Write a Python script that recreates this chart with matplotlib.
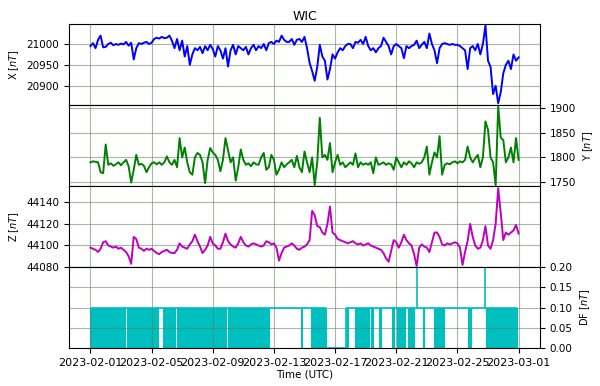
import matplotlib

matplotlib.use("Agg")
import matplotlib.pyplot as plt
import pandas as pd

# 4-hourly readings, 2023-02-01 00:00 .. 2023-03-01 00:00
x_nt = [
    20995, 21002, 20990, 21010, 21020, 20992,
    20993, 21000, 21003, 20997, 21000, 20998,
    21001, 20999, 21005, 20996, 21003, 20963,
    20990, 21002, 21000, 21003, 21005, 21000,
    21003, 21012, 21015, 21013, 21017, 21014,
    21015, 21020, 21008, 20990, 21012, 20985,
    21008, 20970, 20995, 20950, 20975, 20990,
    20985, 20993, 20978, 20995, 20985, 20998,
    20988, 20970, 20995, 20985, 20965, 20990,
    20946, 20985, 20998, 20975, 20995, 20990,
    20985, 20993, 20975, 20990, 20998, 20985,
    20995, 20990, 21000, 20985, 21002, 21005,
    21000, 21008, 21005, 21020, 21010, 21005,
    21005, 21012, 20998, 21010, 21012, 21005,
    21017, 20990, 20955, 20935, 20912, 20945,
    20998, 20970, 20960, 20915, 20940, 20975,
    20965, 20980, 20990, 20985, 20995, 21000,
    21000, 20990, 21005, 21003, 21010, 21000,
    21017, 20995, 20985, 20990, 20980, 20990,
    20995, 21015, 21005, 20995, 20975, 20995,
    21000, 20995, 20990, 20966, 20995, 20990,
    20995, 20998, 21008, 20990, 20998, 21005,
    20990, 21025, 21000, 20985, 20954, 20990,
    21000, 21002, 21000, 20998, 21000, 20998,
    20998, 20995, 20990, 20985, 20940, 20990,
    20995, 20985, 21000, 20975, 21000, 21045,
    20960, 20945, 20880, 20900, 20858, 20885,
    20930, 20950, 20960, 20940, 20975, 20960,
    20968,
]
y_nt = [
    1790, 1792, 1791, 1790, 1770, 1768,
    1826, 1785, 1788, 1783, 1786, 1790,
    1784, 1790, 1795, 1782, 1749, 1775,
    1805, 1785, 1787, 1783, 1770, 1780,
    1788, 1790, 1786, 1790, 1785, 1790,
    1802, 1790, 1785, 1795, 1780, 1839,
    1800, 1820, 1790, 1770, 1765, 1800,
    1809, 1805, 1790, 1748, 1795, 1819,
    1810, 1805, 1795, 1772, 1795, 1839,
    1815, 1790, 1800, 1753, 1780, 1816,
    1795, 1785, 1788, 1782, 1790, 1786,
    1785, 1800, 1809, 1775, 1780, 1805,
    1795, 1765, 1775, 1790, 1780, 1786,
    1790, 1795, 1780, 1803, 1780, 1770,
    1812, 1790, 1770, 1800, 1744, 1790,
    1880, 1800, 1805, 1795, 1829, 1770,
    1790, 1805, 1785, 1790, 1780, 1785,
    1790, 1785, 1808, 1780, 1790, 1785,
    1788, 1785, 1790, 1768, 1800, 1785,
    1787, 1790, 1785, 1788, 1786, 1775,
    1800, 1790, 1780, 1790, 1785, 1792,
    1788, 1780, 1790, 1787, 1790, 1800,
    1822, 1765, 1790, 1810, 1800, 1843,
    1765, 1785, 1788, 1786, 1790, 1792,
    1788, 1792, 1790, 1795, 1822, 1800,
    1790, 1798, 1805, 1780, 1800, 1873,
    1856, 1800, 1790, 1744, 1903, 1840,
    1835, 1790, 1800, 1820, 1790, 1839,
    1795,
]
z_nt = [
    44098, 44097, 44096, 44094, 44097, 44103,
    44104, 44100, 44099, 44098, 44099, 44097,
    44098, 44096, 44094, 44090, 44083, 44108,
    44106, 44098, 44097, 44095, 44097, 44096,
    44097, 44095, 44093, 44092, 44094, 44095,
    44096, 44094, 44093, 44093, 44096, 44102,
    44099, 44098, 44097, 44101, 44104, 44110,
    44104, 44099, 44093, 44096, 44100, 44108,
    44102, 44100, 44097, 44097, 44103, 44111,
    44104, 44101, 44099, 44098, 44102, 44108,
    44103, 44100, 44099, 44101, 44102, 44101,
    44100, 44099, 44100, 44104, 44103, 44101,
    44102, 44098, 44086, 44093, 44098, 44099,
    44100, 44102, 44100, 44097, 44096, 44098,
    44099, 44101, 44105, 44132, 44128, 44118,
    44117, 44112, 44110, 44120, 44136, 44112,
    44110, 44106, 44105, 44104, 44103, 44102,
    44103, 44104, 44102, 44101, 44102, 44100,
    44101, 44102, 44100, 44099, 44098, 44097,
    44096, 44093, 44088, 44085, 44095, 44105,
    44103, 44098, 44103, 44110, 44105, 44102,
    44100, 44092, 44081, 44098, 44101, 44099,
    44098, 44094, 44103, 44112, 44112, 44108,
    44101, 44100, 44102, 44101, 44102, 44103,
    44102, 44098, 44082, 44094, 44104, 44120,
    44108, 44100, 44097, 44098, 44105, 44118,
    44100, 44097, 44105, 44120, 44153, 44130,
    44105, 44112, 44110, 44112, 44114, 44119,
    44111,
]

# DF: days (since 2023-02-01) where it flickers between 0.0 and 0.1
df_block_start = [0.0, 2.41, 2.59, 4.75, 5.66, 6.32, 6.84, 8.99, 9.81, 10.46, 10.79,
                  13.77, 14.42, 16.71, 17.32, 18.34, 18.89, 19.69, 20.04, 20.74,
                  21.72, 22.48, 24.69, 25.85, 26.21, 27.30]
df_block_end = [2.28, 2.51, 4.42, 5.50, 6.22, 6.75, 8.88, 9.73, 10.40, 10.69, 11.70,
                13.84, 15.40, 16.82, 18.24, 18.45, 18.99, 19.82, 20.57, 21.13,
                21.82, 23.09, 24.87, 26.13, 27.22, 27.92]
df_zero_start = [15.40]
df_zero_end = [16.71]
df_spike_days = [21.33, 25.83]
df_base = 0.1
df_spike = 0.2

x_ticks = ["2023-02-01", "2023-02-05", "2023-02-09", "2023-02-13",
           "2023-02-17", "2023-02-21", "2023-02-25", "2023-03-01"]


def main() -> None:
    t0 = pd.Timestamp("2023-02-01")
    times = pd.date_range(t0, periods=len(x_nt), freq="4h")

    def day(d):
        return t0 + pd.Timedelta(days=d)

    fig, axes = plt.subplots(4, 1, sharex=True, figsize=(6.0, 3.86), dpi=100)
    fig.subplots_adjust(left=0.115, right=0.9, top=0.938, bottom=0.098, hspace=0)
    ax_x, ax_y, ax_z, ax_df = axes

    grid_kw = dict(color="#5f7f5f", alpha=0.55, linewidth=0.8)

    ax_x.plot(times, x_nt, color="b", linewidth=1.4)
    ax_x.set_ylim(20854, 21048)
    ax_x.set_yticks([20900, 20950, 21000])
    ax_x.set_ylabel("X [$nT$]", fontsize=7)
    ax_x.set_title("WIC", fontsize=9, pad=3)

    ax_y.plot(times, y_nt, color="g", linewidth=1.4)
    ax_y.set_ylim(1742, 1906)
    ax_y.set_yticks([1750, 1800, 1850, 1900])
    ax_y.yaxis.tick_right()
    ax_y.yaxis.set_label_position("right")
    ax_y.set_ylabel("Y [$nT$]", fontsize=7)

    ax_z.plot(times, z_nt, color="m", linewidth=1.4)
    ax_z.set_ylim(44080, 44155)
    ax_z.set_yticks([44080, 44100, 44120, 44140])
    ax_z.set_ylabel("Z [$nT$]", fontsize=7)

    # DF panel
    gap_edges = [0.0]
    for s, e in zip(df_block_start, df_block_end):
        ax_df.fill_between([day(s), day(e)], 0, df_base, color="c", linewidth=0.8,
                           edgecolor="c")
    base_start = [0.0] + df_zero_end
    base_end = df_zero_start + [df_block_end[-1]]
    for s, e in zip(base_start, base_end):
        ax_df.hlines(df_base, day(s), day(e), color="c", linewidth=1.2)
    for s, e in zip(df_zero_start, df_zero_end):
        ax_df.hlines(0, day(s), day(e), color="c", linewidth=1.2)
        ax_df.vlines([day(s), day(e)], 0, df_base, color="c", linewidth=1.2)
    ax_df.vlines([day(d) for d in df_spike_days], df_base, df_spike, color="c",
                 linewidth=1.2)
    ax_df.set_ylim(0, 0.2)
    ax_df.set_yticks([0.0, 0.05, 0.1, 0.15, 0.2])
    ax_df.set_yticklabels(["0.00", "0.05", "0.10", "0.15", "0.20"])
    ax_df.yaxis.tick_right()
    ax_df.yaxis.set_label_position("right")
    ax_df.set_ylabel("DF [$nT$]", fontsize=7)

    for ax in axes:
        ax.grid(True, **grid_kw)
        ax.tick_params(axis="y", labelsize=7.5)
        ax.tick_params(axis="x", labelsize=8)

    ax_df.set_xlim(day(-1.4), day(29.4))
    ax_df.set_xticks([pd.Timestamp(t) for t in x_ticks])
    ax_df.set_xticklabels(x_ticks)
    ax_df.set_xlabel("Time (UTC)", fontsize=7.5, labelpad=1)

    fig.savefig("out.png", dpi=100)


if __name__ == "__main__":
    main()
